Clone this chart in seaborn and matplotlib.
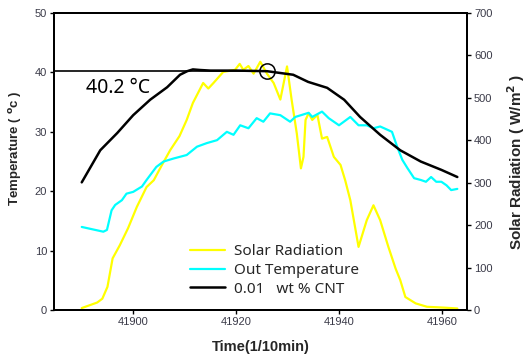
import numpy as np
import pandas as pd
import matplotlib
matplotlib.use("Agg")
import matplotlib.pyplot as plt
import seaborn as sns
from matplotlib.lines import Line2D

# ---------------- data ----------------
time_sr = [41890, 41893, 41894, 41895, 41896, 41897.4, 41899, 41900.7, 41902.6, 41904,
           41905.5, 41907.2, 41909, 41910.4, 41911.6, 41913.6, 41914.6, 41915.6, 41917.5,
           41919.8, 41920.7, 41921.4, 41922.4, 41923.4, 41924.7, 41926, 41927.3, 41928.6,
           41929.9, 41930.8, 41931.8, 41932.6, 41933.1, 41933.5, 41934.1, 41934.8, 41935.8,
           41936.7, 41937.7, 41939, 41940.3, 41941.2, 41942.2, 41943.8, 41945.4, 41946.7,
           41948, 41949.6, 41951, 41951.9, 41952.9, 41954.9, 41957.1, 41960.4, 41963]
solar_radiation = [5, 18, 27, 55, 122, 153, 193, 243, 290, 306,
                   340, 377, 410, 448, 488, 535, 522, 535, 561,
                   566, 580, 566, 575, 557, 585, 557, 535, 496,
                   574, 495, 416, 334, 361, 448, 464, 448, 460,
                   404, 408, 361, 342, 306, 259, 149, 212, 247,
                   212, 149, 98, 71, 31, 16, 8, 6, 4]

time_ot = [41890, 41894.2, 41894.9, 41895.8, 41896.5, 41897.8, 41898.7, 41900, 41901.7,
           41902.6, 41904.5, 41905.9, 41907.8, 41910.4, 41912.4, 41914.3, 41916.3, 41918.2,
           41919.5, 41920.8, 41922.4, 41924, 41925.3, 41926.6, 41928.6, 41930.5, 41931.5,
           41934.1, 41934.8, 41936.7, 41938, 41940, 41942.2, 41943.8, 41945.4, 41946.7,
           41948, 41950.3, 41951.3, 41952.3, 41953.3, 41954.6, 41955.9, 41956.9, 41957.9,
           41958.9, 41959.9, 41960.9, 41961.8, 41963]
out_temperature = [14.0, 13.2, 13.5, 16.8, 17.7, 18.5, 19.6, 19.9, 20.8,
                   21.9, 24.1, 25.0, 25.5, 26.1, 27.5, 28.1, 28.6, 30.0,
                   29.5, 31.1, 30.6, 32.3, 31.7, 33.1, 32.8, 31.7, 32.5,
                   33.2, 32.5, 33.4, 32.3, 31.1, 32.5, 31.1, 31.1, 30.6,
                   30.9, 30.0, 27.5, 25.3, 23.9, 22.2, 21.9, 21.6, 22.4,
                   21.6, 21.6, 21.0, 20.2, 20.4]

time_cnt = [41890, 41893.6, 41896.9, 41900, 41903.3, 41906.6, 41909.1, 41910.5, 41911.6,
            41913, 41915, 41920, 41926, 41931.1, 41934, 41937.7, 41941, 41944.1, 41948,
            41951.9, 41955.9, 41959.9, 41963]
cnt_temperature = [21.5, 26.9, 29.8, 32.8, 35.4, 37.5, 39.6, 40.2, 40.5,
                   40.4, 40.3, 40.3, 40.2, 39.6, 38.4, 37.4, 35.4, 32.5, 29.5,
                   26.9, 25.0, 23.6, 22.4]

ref_time = 41926
ref_temp = 40.2
ref_label = "40.2 \u00b0C"

series_labels = ["Solar Radiation", "Out Temperature", "0.01   wt % CNT"]
x_ticks = [41900, 41920, 41940, 41960]
left_ticks = [0, 10, 20, 30, 40, 50]
right_ticks = [0, 100, 200, 300, 400, 500, 600, 700]

# ---------------- plot ----------------
sns.set_theme(style="white")
plt.rcParams["font.family"] = ["Liberation Sans", "DejaVu Sans"]

fig, ax = plt.subplots(figsize=(5.29, 3.59), dpi=100)
fig.subplots_adjust(left=0.102, right=0.883, top=0.964, bottom=0.136)
ax2 = ax.twinx()
ax.set_zorder(ax2.get_zorder() + 1)
ax.patch.set_visible(False)

c_sr, c_ot, c_cnt = "#ffff00", "#00ffff", "#000000"

sns.lineplot(x=time_sr, y=solar_radiation, ax=ax2, color=c_sr, lw=1.6)
sns.lineplot(x=time_ot, y=out_temperature, ax=ax, color=c_ot, lw=1.6)
sns.lineplot(x=time_cnt, y=cnt_temperature, ax=ax, color=c_cnt, lw=1.8)

xlim = (41884.6, 41964.9)
ax.set_xlim(*xlim)
ax.set_ylim(0, 50)
ax2.set_ylim(0, 700)

ax.hlines(ref_temp, xlim[0], ref_time, color="black", lw=1.2)
ax.plot([ref_time], [ref_temp], marker="o", ms=11, mfc="none", mec="black", mew=1.1, ls="none")
ax.text(41890.8, 37.4, ref_label, fontsize=14, family=["Noto Sans", "DejaVu Sans"],
        va="center", ha="left", color="black")

ax.set_xticks(x_ticks)
ax.set_yticks(left_ticks)
ax2.set_yticks(right_ticks)

tick_col = "#3a3a48"
for a in (ax, ax2):
    a.tick_params(axis="both", which="major", direction="out", length=3, width=1,
                  labelsize=8, colors="black", labelcolor=tick_col, pad=2)
    for s in a.spines.values():
        s.set_color("black")
        s.set_linewidth(1.4)
ax.tick_params(axis="x", bottom=True)
ax.tick_params(axis="y", left=True)
ax2.tick_params(axis="y", right=True)

ax.set_xlabel("Time(1/10min)", fontsize=10.5, fontweight="bold", labelpad=9)
ax.set_ylabel(r"Temperature ( $\mathbf{^{o}}$c )", fontsize=9.5, fontweight="bold")
ax.yaxis.set_label_coords(-0.072, 0.545)
ax2.set_ylabel(r"Solar Radiation ( W/m$\mathbf{^{2}}$ )", fontsize=11, fontweight="bold", labelpad=9)
ax.grid(False)
ax2.grid(False)

handles = [Line2D([], [], color=c_sr, lw=1.6),
           Line2D([], [], color=c_ot, lw=1.6),
           Line2D([], [], color=c_cnt, lw=1.8)]
leg = ax.legend(handles, series_labels, loc="lower left", bbox_to_anchor=(0.329, 0.045),
                frameon=False, borderpad=0, borderaxespad=0, handlelength=2.3,
                handletextpad=0.6, labelspacing=0.25,
                prop={"family": ["Noto Sans", "DejaVu Sans"], "size": 11})

fig.savefig("out.png", dpi=100)
